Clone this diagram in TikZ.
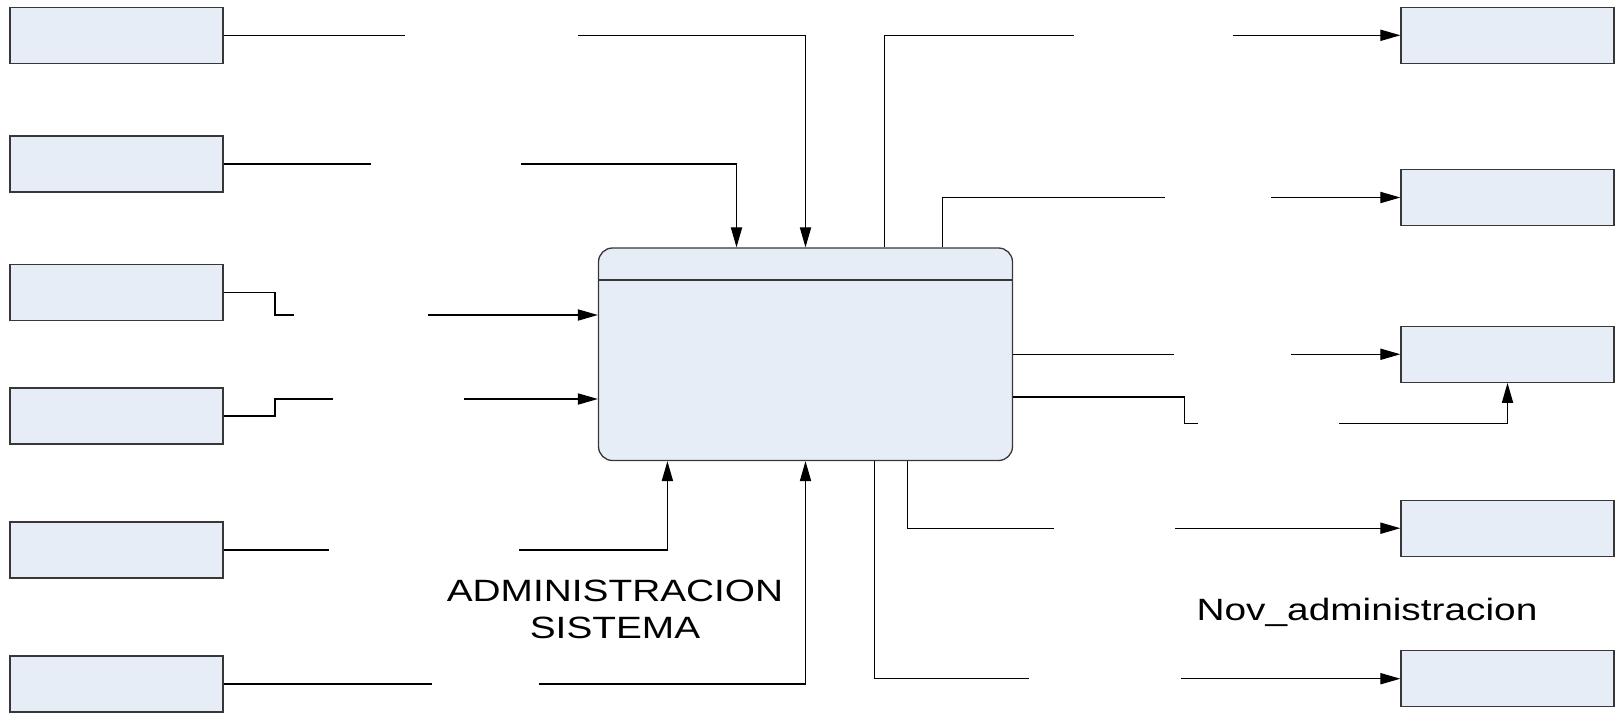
\documentclass[tikz,border=0pt]{standalone}
\usepackage{fontspec}
\setmainfont{Liberation Sans}
\newfontfamily\lblfont[FakeStretch=1.26]{Liberation Sans}
\usetikzlibrary{arrows.meta}

\definecolor{boxfill}{RGB}{230,237,247}
\definecolor{boxline}{RGB}{55,55,55}

\tikzset{
  entbox/.style = {draw = boxline, fill = boxfill, line width = .65pt,
    minimum width = 106.5pt, minimum height = 28pt, inner sep = 0pt},
  procbox/.style = {draw = boxline, fill = boxfill, line width = .65pt,
    rounded corners = 7pt, minimum width = 207pt, minimum height = 106.25pt,
    inner sep = 0pt},
  flow/.style = {-{Triangle[length = 10pt, width = 5.6pt]}},
  lbl/.style = {font = \lblfont\fontsize{15.4}{18.35}\selectfont, inner sep = 0pt}
}

\begin{document}
\begin{tikzpicture}[x = .5pt, y = -.5pt, line width = .6pt, draw = black]
    \useasboundingbox (0,0) rectangle (1615,713);

    % proceso central
    \node [procbox] (sys) at (805.5,354.25) {};
    \draw [boxline, line width = .65pt] (sys.west |- 0,280) -- (sys.east |- 0,280);

    % entidades de entrada
    \node [entbox] (src1) at (116.5,35.3) {};
    \node [entbox] (src2) at (116.5,164) {};
    \node [entbox] (src3) at (116.5,292.5) {};
    \node [entbox] (src4) at (116.5,416) {};
    \node [entbox] (src5) at (116.5,550) {};
    \node [entbox] (src6) at (116.5,684) {};

    % entidades de salida
    \node [entbox] (dst1) at (1507.5,35.3) {};
    \node [entbox] (dst2) at (1507.5,197.5) {};
    \node [entbox] (dst3) at (1507.5,354.25) {};
    \node [entbox] (dst4) at (1507.5,528.2) {};
    \node [entbox] (dst5) at (1507.5,678.7) {};

    % extremos libres
    \coordinate (s1a) at (405,35.3);    \coordinate (s1b) at (578,35.3);
    \coordinate (s2a) at (371,164);     \coordinate (s2b) at (521,164);
    \coordinate (s3k) at (275,315);     \coordinate (s3a) at (294,315);
    \coordinate (s3b) at (427.5,315);
    \coordinate (s4k) at (275,399);     \coordinate (s4a) at (333,399);
    \coordinate (s4b) at (463.5,399);
    \coordinate (s5a) at (329,550);     \coordinate (s5b) at (519,550);
    \coordinate (s6a) at (432,684);     \coordinate (s6b) at (538.7,684);
    \coordinate (d1a) at (1074,35.3);   \coordinate (d1b) at (1233,35.3);
    \coordinate (d2a) at (1165,197.5);  \coordinate (d2b) at (1271,197.5);
    \coordinate (d3a) at (1174,354.25); \coordinate (d3b) at (1290.6,354.25);
    \coordinate (d4k) at (1184.5,423.8); \coordinate (d4a) at (1198,423.8);
    \coordinate (d4b) at (1339,423.8);
    \coordinate (d5a) at (1053.7,528.2); \coordinate (d5b) at (1175,528.2);
    \coordinate (d6a) at (1029,678.7);  \coordinate (d6b) at (1181,678.7);

    % entradas
    \draw (src1.east) -- (s1a);
    \draw [flow] (s1b) -| (805.5,0 |- sys.north);
    \draw (src2.east) -- (s2a);
    \draw [flow] (s2b) -| (736.5,0 |- sys.north);
    \draw (src3.east) -| (s3k) -- (s3a);
    \draw [flow] (s3b) -- (s3b -| sys.west);
    \draw (src4.east) -| (s4k) -- (s4a);
    \draw [flow] (s4b) -- (s4b -| sys.west);
    \draw (src5.east) -- (s5a);
    \draw [flow] (s5b) -| (667.4,0 |- sys.south);
    \draw (src6.east) -- (s6a);
    \draw [flow] (s6b) -| (805.5,0 |- sys.south);

    % salidas
    \draw (884.8,0 |- sys.north) |- (d1a);
    \draw [flow] (d1b) -- (dst1.west);
    \draw (942.5,0 |- sys.north) |- (d2a);
    \draw [flow] (d2b) -- (dst2.west);
    \draw (sys.east) -- (d3a);
    \draw [flow] (d3b) -- (dst3.west);
    \draw (sys.east |- 0,397) -| (d4k) -- (d4a);
    \draw [flow] (d4b) -| (dst3.south);
    \draw (907.4,0 |- sys.south) |- (d5a);
    \draw [flow] (d5b) -- (dst4.west);
    \draw (874.5,0 |- sys.south) |- (d6a);
    \draw [flow] (d6b) -- (dst5.west);

    % textos
    \node [lbl, align = center] (sysname) at (615,609.2) {ADMINISTRACION\\SISTEMA};
    \node [lbl, anchor = base] (novname) at (1367,620) {Nov\_administracion};
  \end{tikzpicture}
\end{document}
